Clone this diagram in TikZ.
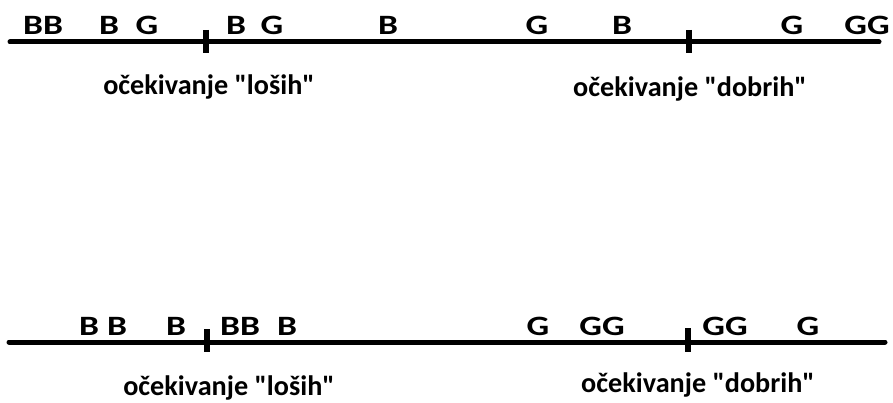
\documentclass[tikz,border=0pt]{standalone}
\usepackage{graphicx}
\usepackage{fontspec}
\setmainfont{Carlito}
\newcommand{\wide}[1]{\scalebox{1.27}[1]{#1}}
\begin{document}
\begin{tikzpicture}[x=1pt,y=-1pt,
  lbl/.style={anchor=base,inner sep=0pt,font=\fontsize{28}{34}\selectfont\bfseries},
  captext/.style={anchor=base,inner sep=0pt,font=\fontsize{28.2}{34}\selectfont\bfseries},
  axisline/.style={line width=5pt,line cap=round},
  tickmark/.style={line width=6pt}]
\useasboundingbox[fill=white] (0,0) rectangle (893,403);
% top axis
\coordinate (t0) at (10,42);
\coordinate (t1) at (879,42);
\draw[axisline] (t0) -- (t1);
\coordinate (ta1) at (206,30); \coordinate (ta2) at (206,53);
\coordinate (tb1) at (689,30); \coordinate (tb2) at (689,53);
\draw[tickmark] (ta1) -- (ta2);
\draw[tickmark] (tb1) -- (tb2);
\node[lbl] (t_1) at (43,35) {\wide{BB}};
\node[lbl] (t_2) at (109,35) {\wide{B}};
\node[lbl] (t_3) at (147,35) {\wide{G}};
\node[lbl] (t_4) at (236,35) {\wide{B}};
\node[lbl] (t_5) at (272,35) {\wide{G}};
\node[lbl] (t_6) at (388,35) {\wide{B}};
\node[lbl] (t_7) at (537,35) {\wide{G}};
\node[lbl] (t_8) at (622,35) {\wide{B}};
\node[lbl] (t_9) at (792,35) {\wide{G}};
\node[lbl] (t_10) at (867,35) {\wide{GG}};
\node[captext] (tl) at (209,95) {očekivanje \textquotedbl loših\textquotedbl};
\node[captext] (tr) at (690,97) {očekivanje \textquotedbl dobrih\textquotedbl};
% bottom axis
\coordinate (b0) at (9,342);
\coordinate (b1) at (885,342);
\draw[axisline] (b0) -- (b1);
\coordinate (ba1) at (207,329); \coordinate (ba2) at (207,352);
\coordinate (bb1) at (688,328); \coordinate (bb2) at (688,352);
\draw[tickmark] (ba1) -- (ba2);
\draw[tickmark] (bb1) -- (bb2);
\node[lbl] (b_1) at (89,335) {\wide{B}};
\node[lbl] (b_2) at (117,335) {\wide{B}};
\node[lbl] (b_3) at (176,335) {\wide{B}};
\node[lbl] (b_4) at (240,335) {\wide{BB}};
\node[lbl] (b_5) at (287,335) {\wide{B}};
\node[lbl] (b_6) at (538,335) {\wide{G}};
\node[lbl] (b_7) at (602,335) {\wide{GG}};
\node[lbl] (b_8) at (725,335) {\wide{GG}};
\node[lbl] (b_9) at (808,335) {\wide{G}};
\node[captext] (bl) at (229,395) {očekivanje \textquotedbl loših\textquotedbl};
\node[captext] (br) at (698,392) {očekivanje \textquotedbl dobrih\textquotedbl};
\end{tikzpicture}
\end{document}
